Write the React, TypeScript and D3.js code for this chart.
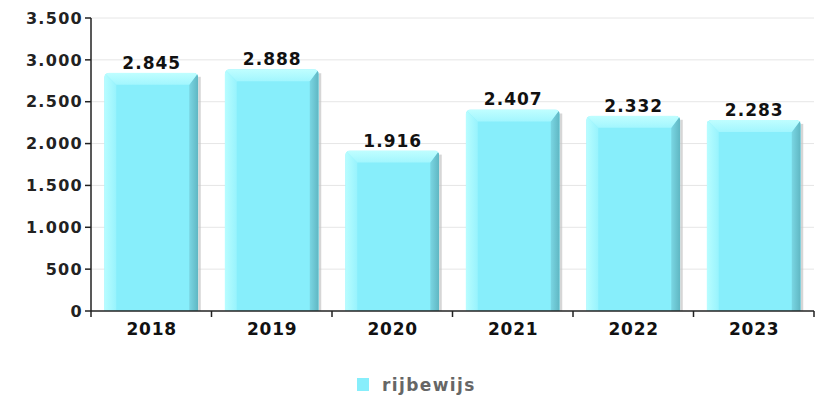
import React from "react";
import * as d3 from "d3";

const categories = ["2018", "2019", "2020", "2021", "2022", "2023"];
const values = [2845, 2888, 1916, 2407, 2332, 2283];
const yTicks = [0, 500, 1000, 1500, 2000, 2500, 3000, 3500];
const seriesName = "rijbewijs";

const W = 822;
const H = 396;
const M = { left: 91, right: 814, top: 18, bottom: 311 };
const FONT = "'DejaVu Sans', Verdana, sans-serif";
const fmt = (v: number) => d3.format(",")(v).replace(/,/g, ".");

export default function App() {
  const x = d3.scaleBand<string>().domain(categories).range([M.left, M.right]).paddingInner(0.22).paddingOuter(0.11);
  const y = d3.scaleLinear().domain([0, 3500]).range([M.bottom, M.top]);
  const bw = x.bandwidth();
  const step = x.step();
  const bands = categories.map((_, i) => M.left + i * step);
  return (
    <svg width={W} height={H} style={{ position: "absolute", left: 0, top: 0, background: "#fff" }}>
      <defs>
        <linearGradient id="leftG" x1="0" x2="1" y1="0" y2="0">
          <stop offset="0" stopColor="#b8fdff" />
          <stop offset="1" stopColor="#98f3fd" />
        </linearGradient>
        <linearGradient id="rightG" x1="0" x2="1" y1="0" y2="0">
          <stop offset="0" stopColor="#7ad6e3" />
          <stop offset="1" stopColor="#5fb6c2" />
        </linearGradient>
        <linearGradient id="topG" x1="0" x2="0" y1="0" y2="1">
          <stop offset="0" stopColor="#c0feff" />
          <stop offset="1" stopColor="#a2f6fe" />
        </linearGradient>
        {categories.map((c, i) => {
          const x0 = x(c)!;
          const top = y(values[i]);
          return (
            <clipPath id={`clip${i}`} key={c}>
              <rect x={x0} y={top} width={bw} height={M.bottom - top + 10} rx={5} ry={5} />
            </clipPath>
          );
        })}
      </defs>
      {yTicks.map((t) => (
        <g key={t}>
          {t > 0 && <line x1={M.left} x2={M.right} y1={y(t)} y2={y(t)} stroke="#e6e6e6" strokeWidth={1} />}
          <line x1={M.left - 6} x2={M.left} y1={y(t)} y2={y(t)} stroke="#222" strokeWidth={1.5} />
          <text x={83} y={y(t)} dy="0.36em" textAnchor="end" fontFamily={FONT} fontWeight="bold" fontSize={16} fill="#222" letterSpacing={1.3}>
            {fmt(t)}
          </text>
        </g>
      ))}
      {categories.map((c, i) => {
        const x0 = x(c)!;
        const x1 = x0 + bw;
        const top = y(values[i]);
        const b = M.bottom;
        const bev = 12;
        const rb = 9;
        return (
          <g key={c}>
            <rect x={x1} y={top + 4} width={2.5} height={b - top - 4} fill="#c4c4c4" opacity={0.7} />
            <g clipPath={`url(#clip${i})`}>
              <rect x={x0} y={top} width={bw} height={b - top} fill="#87eefb" />
              <polygon points={`${x0},${top} ${x0 + bev},${top + bev} ${x0 + bev},${b} ${x0},${b}`} fill="url(#leftG)" />
              <polygon points={`${x1},${top} ${x1 - rb},${top + bev} ${x1 - rb},${b} ${x1},${b}`} fill="url(#rightG)" />
              <polygon points={`${x0},${top} ${x1},${top} ${x1 - rb},${top + bev} ${x0 + bev},${top + bev}`} fill="url(#topG)" />
            </g>
            <text x={x0 + bw / 2 + 0.5} y={top - 4} textAnchor="middle" fontFamily={FONT} fontWeight="bold" fontSize={17} fill="#111" letterSpacing={1}>
              {fmt(values[i])}
            </text>
            <text x={x0 + bw / 2 + 0.5} y={335} textAnchor="middle" fontFamily={FONT} fontWeight="bold" fontSize={17} fill="#111" letterSpacing={0.8}>
              {c}
            </text>
          </g>
        );
      })}
      {bands.concat([M.right]).map((bx, i) => (
        <line key={i} x1={bx} x2={bx} y1={M.bottom} y2={M.bottom + 6} stroke="#222" strokeWidth={1.5} />
      ))}
      <line x1={M.left} x2={M.left} y1={M.top} y2={M.bottom} stroke="#222" strokeWidth={1.5} />
      <line x1={M.left} x2={M.right} y1={M.bottom} y2={M.bottom} stroke="#222" strokeWidth={1.5} />
      <rect x={357} y={378} width={12} height={13} fill="#87eefb" />
      <text x={382} y={391} fontFamily={FONT} fontWeight="bold" fontSize={17} fill="#666" letterSpacing={1.4}>
        {seriesName}
      </text>
    </svg>
  );
}
